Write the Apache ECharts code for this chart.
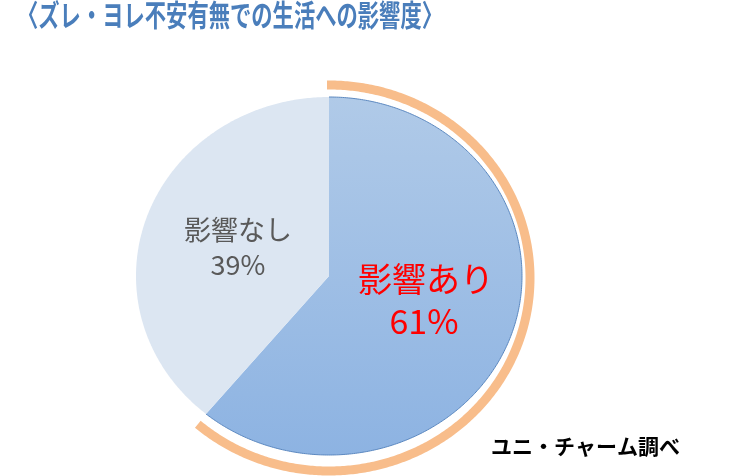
<!DOCTYPE html>
<html>
<head>
<meta charset="utf-8">
<style>
html,body{margin:0;padding:0;background:#fff;}
#main{width:742px;height:476px;}
</style>
<script src="https://cdn.jsdelivr.net/npm/echarts@6/dist/echarts.min.js"></script>
</head>
<body>
<div id="main"></div>
<script>
var titleText = '〈ズレ・ヨレ不安有無での生活への影響度〉';
var sourceText = 'ユニ・チャーム調べ';
var categories = ['影響あり', '影響なし'];
var values = [61, 39];
var labelTexts = ['影響あり', '影響なし'];
var percentTexts = ['61%', '39%'];

var chart = echarts.init(document.getElementById('main'), null, {renderer: 'canvas'});

var PIE = {cx: 329, cy: 276, rx: 193, ry: 179};
var RING = {cx: 329, cy: 278, rx: 201, ry: 193};
var total = values.reduce(function (a, b) { return a + b; }, 0);

function ellPt(e, t) {
  return [e.cx + e.rx * Math.sin(t), e.cy - e.ry * Math.cos(t)];
}
function arcPts(e, a0, a1) {
  var pts = [];
  var n = Math.max(8, Math.ceil(Math.abs(a1 - a0) / 0.01));
  for (var i = 0; i <= n; i++) {
    pts.push(ellPt(e, a0 + (a1 - a0) * i / n));
  }
  return pts;
}

var sliceStyles = [
  {
    fill: new echarts.graphic.LinearGradient(0, 0, 0, 1, [
      {offset: 0, color: '#B0CAE8'},
      {offset: 1, color: '#8DB3E2'}
    ]),
    edge: '#5B88C0', labelColor: '#FF0000', fontSize: 34,
    labelPos: [426, 279], pctPos: [424, 321]
  },
  {
    fill: '#DCE6F2', edge: null, labelColor: '#595959', fontSize: 27,
    labelPos: [238, 230], pctPos: [238, 265]
  }
];

var data = categories.map(function (c, i) { return {name: c, value: [i, values[i]]}; });

chart.setOption({
  animation: false,
  backgroundColor: '#ffffff',
  graphic: [
    {
      type: 'text', left: 17, top: 0, scaleX: 0.71,
      style: {text: titleText, fill: '#4A7EBB', font: 'bold 30px "Noto Sans CJK JP"'}
    },
    {
      type: 'text', left: 491, top: 436,
      style: {text: sourceText, fill: '#000000', font: 'bold 21px "Noto Sans CJK JP"'}
    }
  ],
  series: [{
    type: 'custom',
    coordinateSystem: 'none',
    data: data,
    renderItem: function (params, api) {
      var idx = api.value(0);
      var start = 0;
      for (var k = 0; k < idx; k++) start += values[k];
      var a0 = start / total * Math.PI * 2;
      var a1 = (start + values[idx]) / total * Math.PI * 2;
      var st = sliceStyles[idx];
      var arc = arcPts(PIE, a0, a1);
      var poly = [[PIE.cx, PIE.cy]].concat(arc);
      var children = [
        {type: 'polygon', shape: {points: poly}, style: {fill: st.fill, stroke: null}}
      ];
      if (st.edge) {
        children.push({type: 'polyline', shape: {points: arc}, style: {stroke: st.edge, lineWidth: 1, fill: null}});
        var ringPts = arcPts(RING, a0 - 0.01, a1 + 0.02);
        children.push({type: 'polyline', shape: {points: ringPts}, style: {stroke: '#F8BD8B', lineWidth: 9, fill: null}});
      }
      children.push({
        type: 'text', x: st.labelPos[0], y: st.labelPos[1],
        style: {text: labelTexts[idx], fill: st.labelColor, font: st.fontSize + 'px "Noto Sans CJK JP"', align: 'center', verticalAlign: 'middle'}
      });
      children.push({
        type: 'text', x: st.pctPos[0], y: st.pctPos[1],
        style: {text: percentTexts[idx], fill: st.labelColor, font: st.fontSize + 'px "Noto Sans CJK JP"', align: 'center', verticalAlign: 'middle'}
      });
      return {type: 'group', children: children};
    }
  }]
});
</script>
</body>
</html>
